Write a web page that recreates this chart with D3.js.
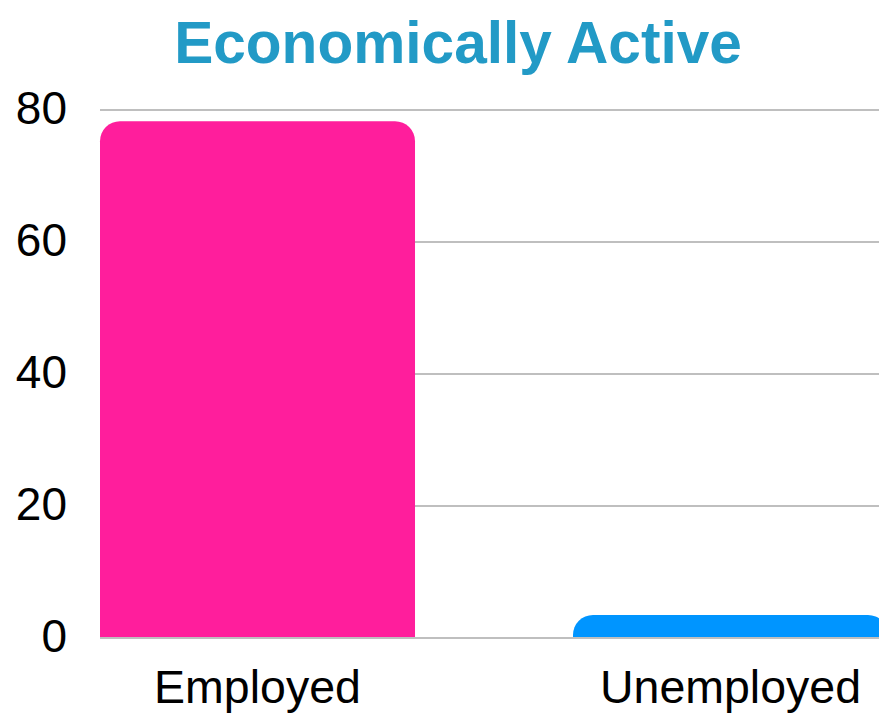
<!DOCTYPE html>
<html><head><meta charset="utf-8">
<script src="https://cdn.jsdelivr.net/npm/d3@7"></script>
<style>html,body{margin:0;padding:0;background:#fff;overflow:hidden}</style>
</head><body>
<svg id="c" width="879" height="715"></svg>
<script>
const categories = ["Employed", "Unemployed"];
const values = [78.3, 3.5];
const colors = ["#ff1e9c", "#0095ff"];
const yTicks = [0, 20, 40, 60, 80];
const title = "Economically Active";

const svg = d3.select("#c");
const x = d3.scaleBand().domain(categories).range([100, 888]).paddingInner(0.334).paddingOuter(0);
const y = d3.scaleLinear().domain([0, 80]).range([638, 110]);
const font = "'Liberation Sans', Arial, sans-serif";

svg.append("text").attr("x", 458).attr("y", 63).attr("text-anchor", "middle")
  .attr("font-family", font).attr("font-weight", "bold").attr("font-size", 58.6)
  .attr("fill", "#229ac6").text(title);

svg.append("g").selectAll("line").data(yTicks).join("line")
  .attr("x1", 100).attr("x2", 888).attr("y1", d => y(d)).attr("y2", d => y(d))
  .attr("stroke", "#bfbfbf").attr("stroke-width", 2);

svg.append("g").selectAll("text").data(yTicks).join("text")
  .attr("x", 67).attr("y", d => y(d)).attr("dy", "0.31em").attr("text-anchor", "end")
  .attr("font-family", font).attr("font-size", 46).attr("fill", "#000").text(d => d);

function topRounded(x0, y0, w, h, r) {
  r = Math.min(r, h, w / 2);
  return `M${x0},${y0 + h}V${y0 + r}A${r},${r} 0 0 1 ${x0 + r},${y0}H${x0 + w - r}A${r},${r} 0 0 1 ${x0 + w},${y0 + r}V${y0 + h}Z`;
}

svg.append("g").selectAll("path").data(categories).join("path")
  .attr("d", (d, i) => topRounded(x(d), y(values[i]), x.bandwidth(), y(0) - 1 - y(values[i]), 20))
  .attr("fill", (d, i) => colors[i]);

svg.append("g").selectAll("text").data(categories).join("text")
  .attr("x", d => x(d) + x.bandwidth() / 2).attr("y", 703).attr("text-anchor", "middle")
  .attr("font-family", font).attr("font-size", 46.5).attr("fill", "#000").text(d => d);
</script>
</body></html>
